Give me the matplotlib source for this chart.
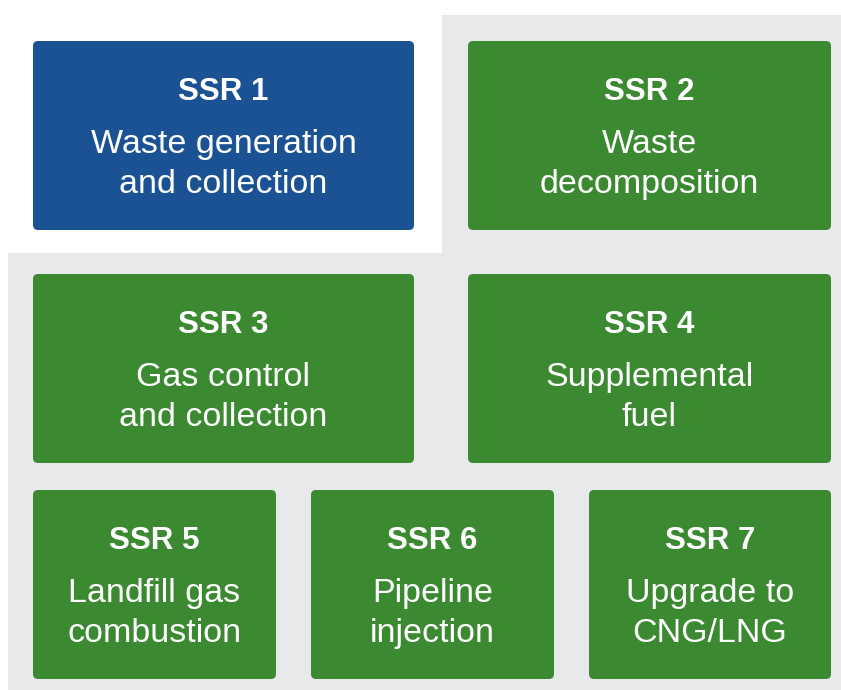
import matplotlib
matplotlib.use("Agg")
import matplotlib.pyplot as plt
from matplotlib.patches import FancyBboxPatch, Polygon

titles = ["SSR 1", "SSR 2", "SSR 3", "SSR 4", "SSR 5", "SSR 6", "SSR 7"]
descriptions = [
    "Waste generation\nand collection",
    "Waste\ndecomposition",
    "Gas control\nand collection",
    "Supplemental\nfuel",
    "Landfill gas\ncombustion",
    "Pipeline\ninjection",
    "Upgrade to\nCNG/LNG",
]
groups = ["outside", "inside", "inside", "inside", "inside", "inside", "inside"]

BLUE = "#1a5293"
GREEN = "#3b8a32"
GRAY = "#e8e9eb"
colors = {"outside": BLUE, "inside": GREEN}

# layout (pixels): rows of boxes
rows_y = [41, 274, 490]
box_h = 189
row_cols = [
    [(33, 414), (468, 831)],
    [(33, 414), (468, 831)],
    [(33, 276), (311, 554), (589, 831)],
]

W, H = 841, 690
fig = plt.figure(figsize=(W / 100, H / 100), dpi=100)
ax = fig.add_axes([0, 0, 1, 1])
ax.set_xlim(0, W)
ax.set_ylim(H, 0)
ax.axis("off")

# L-shaped gray boundary
ax.add_patch(Polygon([(442, 15), (W, 15), (W, H), (8, H), (8, 253), (442, 253)],
                     closed=True, facecolor=GRAY, edgecolor="none", zorder=0))

font = "Liberation Sans"
i = 0
for r, cols in enumerate(row_cols):
    y0 = rows_y[r]
    for (x0, x1) in cols:
        ax.add_patch(FancyBboxPatch((x0, y0), x1 - x0, box_h,
                                    boxstyle="round,pad=0,rounding_size=5",
                                    facecolor=colors[groups[i]], edgecolor="none", zorder=1))
        cx = (x0 + x1) / 2
        ax.text(cx, y0 + 59, titles[i], ha="center", va="baseline", color="white",
                fontsize=22.5, fontweight="bold", family=font, zorder=2)
        lines = descriptions[i].split("\n")
        for k, line in enumerate(lines):
            ax.text(cx, y0 + 112 + 40 * k, line, ha="center", va="baseline", color="white",
                    fontsize=24.5, family=font, zorder=2)
        i += 1

fig.savefig("out.png", dpi=100, facecolor="white")
